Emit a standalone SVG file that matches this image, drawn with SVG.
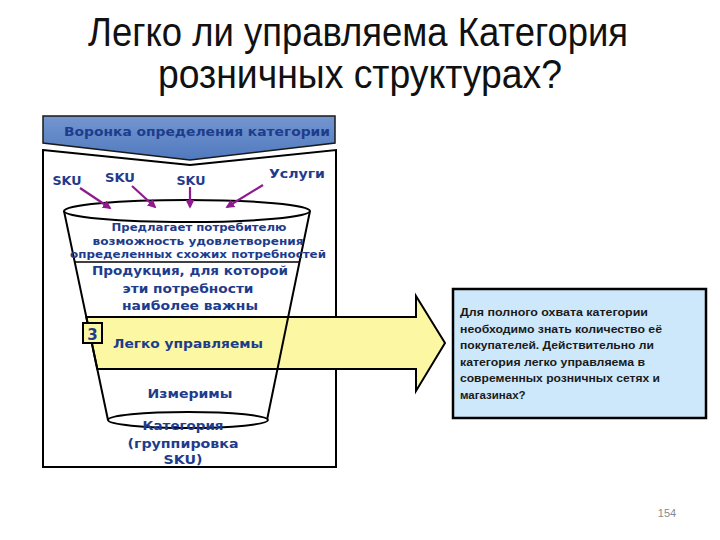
<svg xmlns="http://www.w3.org/2000/svg" width="720" height="540" viewBox="0 0 720 540">
<style>
.title{font-family:"Liberation Sans",Arial,sans-serif;font-size:41px;fill:#111;text-anchor:middle}
.f{font-family:"DejaVu Sans",Verdana,sans-serif;font-weight:bold;fill:#1E3C8C;text-anchor:middle}
.s11{font-size:11px}
.s12{font-size:12.5px}
.lab{font-size:12.5px}
.blk{stroke:#000;stroke-width:2;fill:none}
.note{font-family:"Liberation Sans",Arial,sans-serif;font-weight:bold;font-size:11.5px;fill:#1a1a1a}
.pur{stroke:#8E1A8E;stroke-width:2.2;fill:none;marker-end:url(#ah)}
</style>
<defs>
<linearGradient id="bg" x1="0" y1="0" x2="0" y2="1">
<stop offset="0" stop-color="#7496D0"/>
<stop offset="1" stop-color="#5079BE"/>
</linearGradient>
<marker id="ah" viewBox="0 0 10 10" refX="8" refY="5" markerWidth="4" markerHeight="4" orient="auto">
<path d="M0,0 L10,5 L0,10 z" fill="#8E1A8E"/>
</marker>
</defs>
<rect width="720" height="540" fill="#fff"/>
<g id="title">
<text class="title" x="358" y="46" textLength="540" lengthAdjust="spacingAndGlyphs">Легко ли управляема Категория</text>
<text class="title" x="360" y="88" textLength="404" lengthAdjust="spacingAndGlyphs">розничных структурах?</text>
</g>
<g id="frame">
<polygon points="43,150 190,165 336,150 336,467 43,467" fill="#fff" stroke="#000" stroke-width="2"/>
</g>
<g id="banner">
<polygon points="43,116 335,116 335,143 190,160 43,143" fill="url(#bg)" stroke="#1a1a1a" stroke-width="1.5"/>
<text class="f s12" x="197" y="136" textLength="266" lengthAdjust="spacingAndGlyphs" fill="#1D3A94">Воронка определения категории</text>
</g>
<g id="funnel">
<polygon points="64,211 310,211 267,420 108,420" fill="#fff"/>
<ellipse cx="187" cy="211" rx="123" ry="11" fill="#fff" stroke="#000" stroke-width="2"/>
<line x1="75" y1="262" x2="300" y2="262" stroke="#000" stroke-width="1.5"/>
</g>
<g id="arrow">
<polygon points="86.3,317 416,317 416,296 445,343 416,391 416,369 97.3,369" fill="#FCF7A2" stroke="#000" stroke-width="2" stroke-linejoin="miter"/>
</g>
<g id="funnel-sides">
<line class="blk" x1="64" y1="211" x2="108" y2="420"/>
<line class="blk" x1="310" y1="211" x2="267" y2="420"/>
<ellipse cx="188" cy="420" rx="80" ry="8" fill="#fff" stroke="#000" stroke-width="2"/>
</g>
<g id="num3">
<rect x="83" y="323" width="19" height="20" fill="#FCF7A2" stroke="#000" stroke-width="2"/>
<text class="f" x="92.5" y="340" font-size="15" fill="#1a1a3a">3</text>
</g>
<g id="labels">
<text class="f lab" x="67" y="185" textLength="29" lengthAdjust="spacingAndGlyphs">SKU</text>
<text class="f lab" x="120" y="182" textLength="30" lengthAdjust="spacingAndGlyphs">SKU</text>
<text class="f lab" x="191" y="185" textLength="29" lengthAdjust="spacingAndGlyphs">SKU</text>
<text class="f lab" x="297" y="178" textLength="56" lengthAdjust="spacingAndGlyphs">Услуги</text>
</g>
<g id="connectors">
<line class="pur" x1="80" y1="188" x2="110" y2="208"/>
<line class="pur" x1="132" y1="186" x2="155" y2="207"/>
<line class="pur" x1="190" y1="187" x2="190" y2="207"/>
<line class="pur" x1="263" y1="185" x2="227" y2="207"/>
</g>
<g id="funnel-text">
<text class="f s11" x="199" y="231" textLength="175" lengthAdjust="spacingAndGlyphs">Предлагает потребителю</text>
<text class="f s11" x="198" y="245" textLength="211" lengthAdjust="spacingAndGlyphs">возможность удовлетворения</text>
<text class="f s11" x="198" y="258" textLength="256" lengthAdjust="spacingAndGlyphs">определенных схожих потребностей</text>
<text class="f s12" x="190" y="275" textLength="196" lengthAdjust="spacingAndGlyphs">Продукция, для которой</text>
<text class="f s12" x="188" y="293" textLength="131" lengthAdjust="spacingAndGlyphs">эти потребности</text>
<text class="f s12" x="190" y="310" textLength="136" lengthAdjust="spacingAndGlyphs">наиболее важны</text>
<text class="f s12" x="188" y="348" textLength="150" lengthAdjust="spacingAndGlyphs">Легко управляемы</text>
<text class="f s12" x="190" y="398" textLength="85" lengthAdjust="spacingAndGlyphs">Измеримы</text>
<text class="f s12" x="183" y="430" textLength="81" lengthAdjust="spacingAndGlyphs">Категория</text>
<text class="f s12" x="183" y="448" textLength="111" lengthAdjust="spacingAndGlyphs">(группировка</text>
<text class="f s12" x="183" y="464" textLength="39" lengthAdjust="spacingAndGlyphs">SKU)</text>
</g>
<g id="note">
<rect x="453" y="289" width="253" height="129" fill="#CDE8FA" stroke="#000" stroke-width="2.5"/>
<text class="note" x="460" y="316" textLength="188" lengthAdjust="spacingAndGlyphs">Для полного охвата категории</text>
<text class="note" x="460" y="333" textLength="202" lengthAdjust="spacingAndGlyphs">необходимо знать количество её</text>
<text class="note" x="460" y="349" textLength="194" lengthAdjust="spacingAndGlyphs">покупателей. Действительно ли</text>
<text class="note" x="460" y="366" textLength="185" lengthAdjust="spacingAndGlyphs">категория легко управляема в</text>
<text class="note" x="460" y="382" textLength="200" lengthAdjust="spacingAndGlyphs">современных розничных сетях и</text>
<text class="note" x="460" y="399">магазинах?</text>
</g>
<g id="page">
<text x="667" y="517" font-family="Liberation Sans, Arial, sans-serif" font-size="11" fill="#8a8a8a" text-anchor="middle">154</text>
</g>
</svg>
